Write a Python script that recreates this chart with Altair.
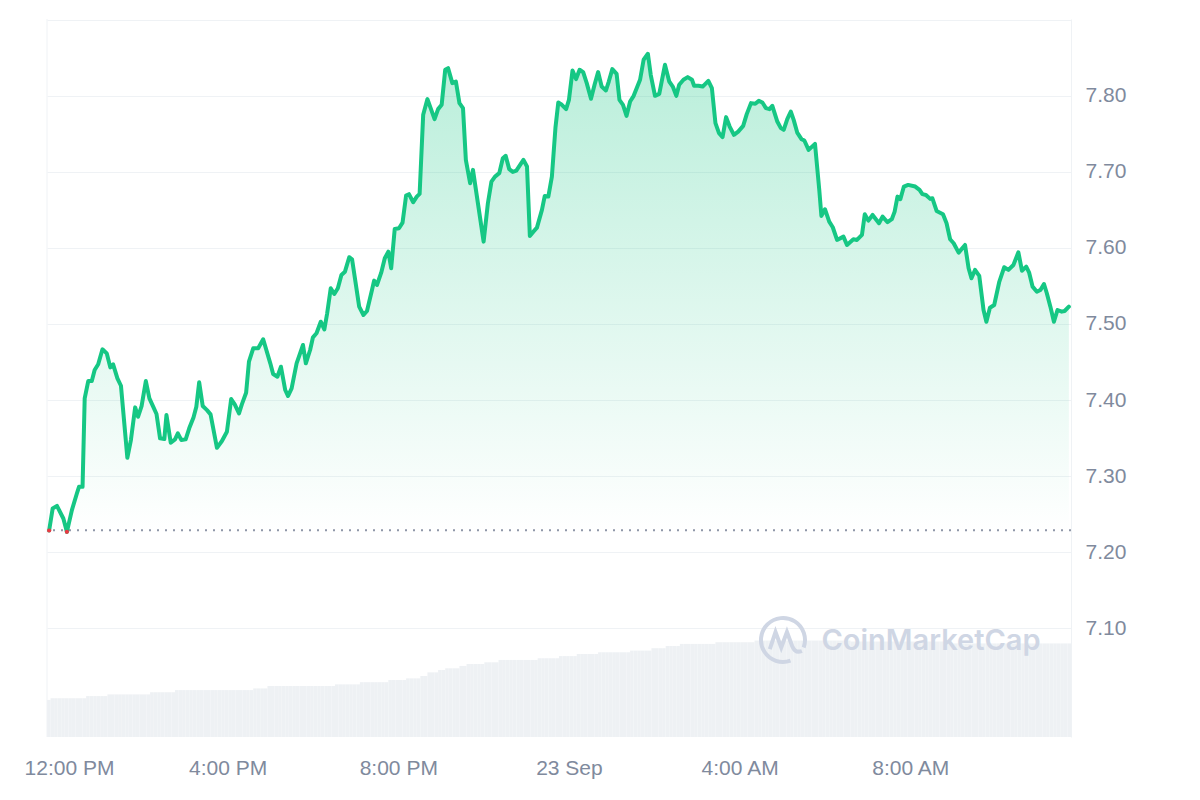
import altair as alt
import pandas as pd

# ---------------- data ----------------
START = "2023-09-22T11:46:00"          # left edge of the 24h window
END = "2023-09-23T11:46:00"

# minutes after START for each price sample
TIME_MIN = [3, 8, 14, 23, 28, 35, 42, 45, 50, 53,
            58, 63, 67, 72, 78, 84, 89, 93, 99, 104,
            113, 118, 124, 128, 133, 139, 144, 149, 154, 159,
            165, 168, 174, 180, 184, 189, 195, 200, 206, 210,
            214, 219, 225, 230, 239, 246, 253, 259, 264, 270,
            274, 280, 284, 290, 297, 304, 314, 318, 324, 329,
            335, 339, 344, 351, 360, 364, 370, 374, 379, 385,
            390, 394, 399, 404, 409, 414, 419, 425, 429, 439,
            445, 450, 457, 460, 464, 470, 475, 480, 484, 489,
            495, 500, 505, 509, 515, 520, 524, 529, 535, 545,
            550, 555, 560, 564, 570, 575, 580, 585, 589, 595,
            599, 614, 620, 625, 630, 636, 641, 645, 650, 655,
            660, 670, 675, 679, 684, 689, 696, 700, 705, 710,
            715, 719, 724, 730, 734, 739, 744, 749, 754, 759,
            765, 770, 775, 780, 786, 790, 795, 801, 805, 810,
            815, 820, 825, 834, 839, 845, 849, 855, 861, 869,
            875, 880, 885, 889, 895, 901, 907, 910, 916, 922,
            930, 935, 940, 945, 950, 955, 960, 966, 972, 979,
            984, 990, 996, 1001, 1006, 1011, 1016, 1020, 1027, 1032,
            1036, 1041, 1046, 1050, 1055, 1061, 1065, 1071, 1080, 1086,
            1089, 1094, 1100, 1105, 1111, 1120, 1125, 1134, 1139, 1146,
            1150, 1155, 1161, 1170, 1175, 1182, 1188, 1192, 1196, 1200,
            1205, 1211, 1221, 1227, 1231, 1236, 1242, 1245, 1251, 1260,
            1265, 1270, 1275, 1282, 1291, 1296, 1300, 1305, 1311, 1317,
            1321, 1326, 1332, 1339, 1346, 1352, 1359, 1366, 1371, 1377,
            1381, 1386, 1392, 1397, 1402, 1406, 1411, 1416, 1421, 1427,
            1431, 1437]

PRICE = [7.2285, 7.2575, 7.2609, 7.2443, 7.2267, 7.2553, 7.2772, 7.2859, 7.2859, 7.4022,
         7.4250, 7.4250, 7.4395, 7.4470, 7.4667, 7.4614, 7.4430, 7.4470, 7.4286, 7.4188,
         7.3241, 7.3474, 7.3904, 7.3780, 7.3921, 7.4250, 7.4022, 7.3921, 7.3816, 7.3496,
         7.3487, 7.3803, 7.3438, 7.3483, 7.3562, 7.3474, 7.3483, 7.3628, 7.3772, 7.3912,
         7.4233, 7.3921, 7.3868, 7.3812, 7.3372, 7.3461, 7.3583, 7.4013, 7.3943, 7.3825,
         7.3943, 7.4096, 7.4504, 7.4680, 7.4680, 7.4799, 7.4483, 7.4342, 7.4307, 7.4438,
         7.4132, 7.4053, 7.4154, 7.4483, 7.4724, 7.4483, 7.4658, 7.4825, 7.4878, 7.5030,
         7.4930, 7.5141, 7.5470, 7.5395, 7.5470, 7.5645, 7.5688, 7.5878, 7.5851, 7.5228,
         7.5118, 7.5171, 7.5447, 7.5570, 7.5513, 7.5675, 7.5864, 7.5951, 7.5733, 7.6250,
         7.6259, 7.6333, 7.6688, 7.6707, 7.6601, 7.6675, 7.6711, 7.7750, 7.7957, 7.7693,
         7.7825, 7.7882, 7.8342, 7.8364, 7.8167, 7.8188, 7.7904, 7.7838, 7.7158, 7.6851,
         7.7026, 7.6083, 7.6588, 7.6872, 7.6938, 7.6983, 7.7180, 7.7211, 7.7036, 7.7000,
         7.7017, 7.7158, 7.7070, 7.6158, 7.6214, 7.6267, 7.6500, 7.6684, 7.6675, 7.6938,
         7.7579, 7.7912, 7.7882, 7.7825, 7.7947, 7.8333, 7.8220, 7.8342, 7.8312, 7.8167,
         7.7961, 7.8145, 7.8312, 7.8122, 7.8070, 7.8188, 7.8351, 7.8289, 7.7947, 7.7882,
         7.7737, 7.7925, 7.8000, 7.8211, 7.8474, 7.8553, 7.8276, 7.8000, 7.8026, 7.8408,
         7.8188, 7.8122, 7.8000, 7.8145, 7.8211, 7.8246, 7.8211, 7.8132, 7.8132, 7.8122,
         7.8197, 7.8101, 7.7641, 7.7509, 7.7457, 7.7720, 7.7596, 7.7487, 7.7530, 7.7605,
         7.7759, 7.7904, 7.7895, 7.7934, 7.7912, 7.7838, 7.7825, 7.7868, 7.7662, 7.7575,
         7.7553, 7.7693, 7.7793, 7.7684, 7.7517, 7.7430, 7.7412, 7.7289, 7.7368, 7.6763,
         7.6421, 7.6509, 7.6346, 7.6272, 7.6105, 7.6149, 7.6039, 7.6114, 7.6105, 7.6171,
         7.6443, 7.6359, 7.6434, 7.6325, 7.6412, 7.6338, 7.6378, 7.6478, 7.6675, 7.6641,
         7.6807, 7.6829, 7.6807, 7.6763, 7.6707, 7.6697, 7.6645, 7.6654, 7.6487, 7.6443,
         7.6325, 7.6114, 7.6062, 7.5938, 7.6039, 7.5733, 7.5601, 7.5711, 7.5632, 7.5184,
         7.5030, 7.5214, 7.5250, 7.5549, 7.5746, 7.5711, 7.5776, 7.5943, 7.5701, 7.5754,
         7.5680, 7.5491, 7.5425, 7.5447, 7.5526, 7.5404, 7.5228, 7.5030, 7.5184, 7.5162,
         7.5171, 7.5228]

OPEN_PRICE = 7.2289

# 24h volume (millions), as runs of equal-height 5-minute bars
VOLUME_M = [15.5, 16.2, 17.1, 17.8, 18.7, 19.6, 20.3, 21.3, 22.0, 22.9, 23.8,
            24.5, 25.5, 27.0, 28.0, 28.7, 29.7, 30.5, 31.2, 32.2, 32.9, 33.8,
            34.7, 35.4, 36.1, 37.1, 38.0, 38.9, 39.6, 40.3, 39.9, 39.1]
RUN_BARS = [1, 10, 6, 12, 7, 22, 4, 19, 7, 8, 5, 4, 2, 3, 2, 4, 2, 5, 4, 11, 6,
            5, 6, 9, 6, 4, 4, 10, 11, 27, 28, 34]

Y_TICKS = [7.1, 7.2, 7.3, 7.4, 7.5, 7.6, 7.7, 7.8, 7.9]
X_TICK_HOURS = [(22, 12), (22, 16), (22, 20), (23, 0), (23, 4), (23, 8)]
WATERMARK = "CoinMarketCap"

# ---------------- tables ----------------
start = pd.Timestamp(START)
price_df = pd.DataFrame({
    "time": [start + pd.Timedelta(minutes=m) for m in TIME_MIN],
    "price": PRICE,
})
vol_values = []
for level, n in zip(VOLUME_M, RUN_BARS):
    vol_values += [level] * n
bar_start = pd.date_range(start, periods=len(vol_values), freq="5min")
vol_df = pd.DataFrame({
    "t0": bar_start,
    "t1": bar_start + pd.Timedelta(minutes=5),
    "volume": vol_values,
})

# ---------------- styling ----------------
W, H = 1024, 718
GREEN = "#16c784"
RED = "#ea3943"
GREY_TXT = "#808a9d"
GRID = "#eff2f5"
FONT = "Liberation Sans"


def dt(day, hour, minute=0):
    return alt.DateTime(year=2023, month=9, date=day, hours=hour, minutes=minute)


x_scale = alt.Scale(domain=[dt(22, 11, 46), dt(23, 11, 46)])
y_scale = alt.Scale(domain=[6.957, 7.901], nice=False, zero=False)

x_axis = alt.Axis(
    values=[dt(d, h) for d, h in X_TICK_HOURS],
    labelExpr="hours(datum.value) == 0 ? timeFormat(datum.value, '%-d %b') : timeFormat(datum.value, '%-I:%M %p')",
    title=None, domain=False, ticks=False, grid=False,
    labelFontSize=21, labelColor=GREY_TXT, labelFont=FONT,
    labelPadding=20, labelOverlap=False,
    labelOffset={"condition": {"test": "hours(datum.value) == 12", "value": 12}, "value": 0},
)
y_axis = alt.Axis(
    orient="right", values=Y_TICKS,
    labelExpr="datum.value > 7.85 ? '' : format(datum.value, '.2f')",
    title=None, domain=True, domainColor=GRID, ticks=False,
    grid=True, gridColor=GRID, gridWidth=1,
    labelFontSize=21, labelColor=GREY_TXT, labelFont=FONT, labelPadding=14,
)

# volume bars (own scale, no axis)
bars = alt.Chart(vol_df).mark_bar(color="#eef1f4").encode(
    x=alt.X("t0:T", scale=x_scale, axis=x_axis),
    x2="t1:T",
    y=alt.Y("volume:Q", scale=alt.Scale(domain=[0, 300]), axis=None),
    y2=alt.datum(0),
)

base = alt.Chart(price_df)
area = base.mark_area(
    color=alt.Gradient(
        gradient="linear",
        stops=[alt.GradientStop(color="rgba(22,199,132,0.30)", offset=0),
               alt.GradientStop(color="rgba(22,199,132,0.0)", offset=1)],
        x1=1, x2=1, y1=0, y2=1,
    )
).encode(
    x=alt.X("time:T", scale=x_scale, axis=x_axis),
    y=alt.Y("price:Q", scale=y_scale, axis=y_axis),
    y2=alt.datum(OPEN_PRICE),
)
open_rule = alt.Chart(pd.DataFrame({"open": [OPEN_PRICE]})).mark_rule(
    color="#8f97a8", strokeDash=[2, 6], strokeWidth=2
).encode(y=alt.Y("open:Q", scale=y_scale, axis=y_axis))
line = base.mark_line(color=GREEN, strokeWidth=4, strokeJoin="round", strokeCap="round").encode(
    x=alt.X("time:T", scale=x_scale, axis=x_axis),
    y=alt.Y("price:Q", scale=y_scale, axis=y_axis),
)
below = base.transform_filter(alt.datum.price < OPEN_PRICE).mark_circle(
    color=RED, size=18, opacity=1
).encode(
    x=alt.X("time:T", scale=x_scale, axis=x_axis),
    y=alt.Y("price:Q", scale=y_scale, axis=y_axis),
)
price_layer = alt.layer(area, open_rule, line, below)

# decorations: left border line and watermark
left_line = alt.Chart(pd.DataFrame({"v": [0]})).mark_rule(color=GRID, strokeWidth=1).encode(
    x=alt.value(0), y=alt.value(0), y2=alt.value(H)
)
LOGO_PATH = ("M 0.94 0.34 A 1 1 0 1 0 0.34 0.94 "
             "M -0.6 0.42 L -0.34 -0.36 L -0.08 0.34 L 0.18 -0.36 L 0.42 0.28 Q 0.56 0.62 0.86 0.5")
logo = alt.Chart(pd.DataFrame({"v": [0]})).mark_point(
    shape=LOGO_PATH, size=1936, filled=False, strokeWidth=4, color="#cfd6e4", opacity=1
).encode(x=alt.value(736), y=alt.value(621))
wm_text = alt.Chart(pd.DataFrame({"label": [WATERMARK]})).mark_text(
    font="Inter", fontSize=29, fontWeight=600, color="#cfd6e4", align="center", baseline="middle"
).encode(text="label:N", x=alt.value(884), y=alt.value(622))

chart = alt.layer(bars, left_line, logo, wm_text, price_layer).resolve_scale(
    y="independent"
).properties(
    width=W, height=H,
    autosize=alt.AutoSizeParams(type="none"),
    padding={"left": 39, "top": 11, "right": 120, "bottom": 50},
    background="white",
).configure_view(stroke=None)

chart.save("out.html", embed_options={"renderer": "svg", "actions": False})
